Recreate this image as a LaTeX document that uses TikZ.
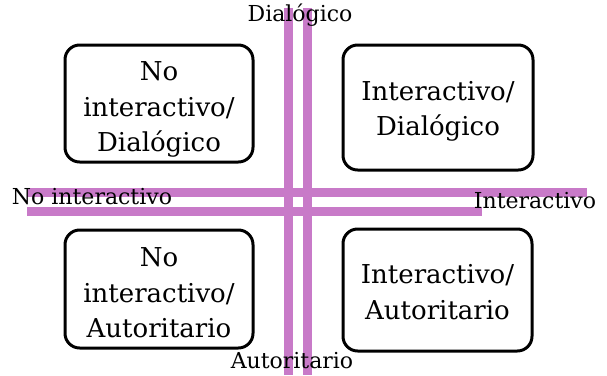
\documentclass[tikz,border=0pt]{standalone}
\usepackage{fontspec}
\setmainfont{DejaVu Serif}
\begin{document}
\begin{tikzpicture}[x=0.75pt,y=-0.75pt,
  bar/.style={line width=6.75pt,draw=barcol},
  quad/.style={draw=black,line width=2.25pt,rounded corners=11pt,fill=white,inner sep=0pt},
  quadtext/.style={align=center,font=\fontsize{19.5pt}{26.5pt}\selectfont,inner sep=0pt},
  axlabel/.style={font=\fontsize{16.5pt}{18pt}\selectfont,inner sep=1pt,text=black}]
\definecolor{barcol}{RGB}{200,122,200}
\useasboundingbox (0,0) rectangle (607,375);
\fill[white] (0,0) rectangle (607,375);
% bars
\draw[bar] (288.5,8) -- (288.5,375);
\draw[bar] (307.5,8) -- (307.5,375);
\draw[bar] (27,192) -- (587,192);
\draw[bar] (27,211) -- (482,211);
% quadrant boxes
\node[quad,minimum width=188*0.75pt,minimum height=117*0.75pt] (nd) at (159,103.5) {};
\node[quad,minimum width=190*0.75pt,minimum height=125*0.75pt] (id) at (438,107.5) {};
\node[quad,minimum width=188*0.75pt,minimum height=118*0.75pt] (na) at (159,289) {};
\node[quad,minimum width=189*0.75pt,minimum height=122*0.75pt] (ia) at (437.5,290) {};
\node[quadtext] (ndt) at ([yshift=-4.5pt]nd.center) {No\\interactivo/\\Dialógico};
\node[quadtext] (idt) at ([yshift=-3pt]id.center) {Interactivo/\\Dialógico};
\node[quadtext] (nat) at ([yshift=-3pt]na.center) {No\\interactivo/\\Autoritario};
\node[quadtext] (iat) at ([yshift=-1.5pt]ia.center) {Interactivo/\\Autoritario};
% axis labels
\node[axlabel] (top) at (300,15) {Dialógico};
\node[axlabel] (bot) at (292,361) {Autoritario};
\node[axlabel] (lft) at (92,197) {No interactivo};
\node[axlabel] (rgt) at (535,201) {Interactivo};
\end{tikzpicture}
\end{document}
